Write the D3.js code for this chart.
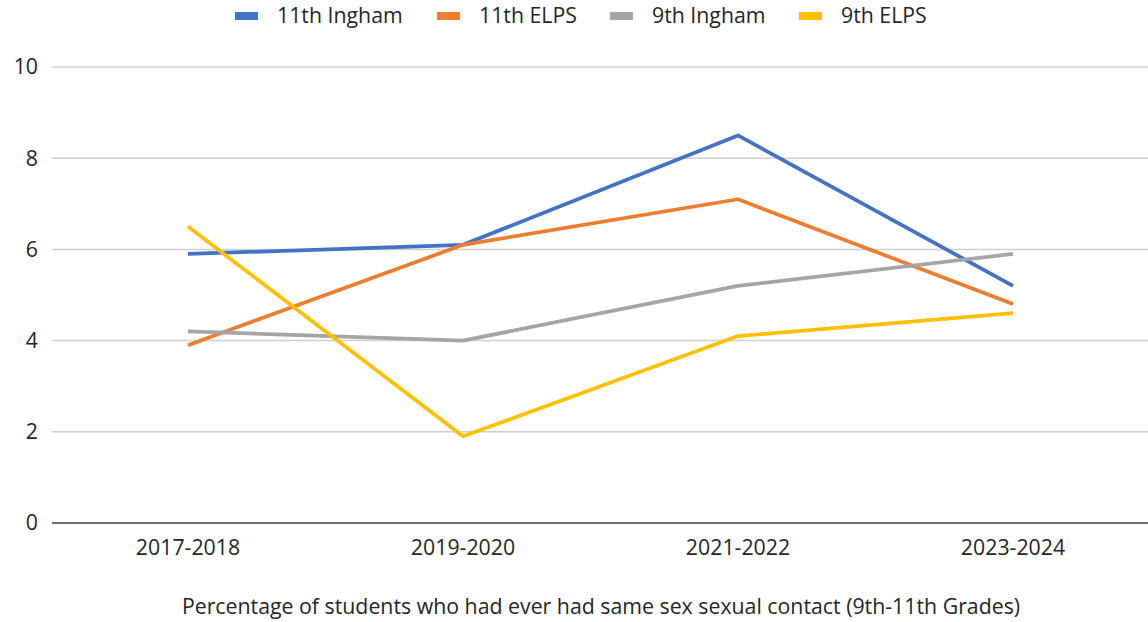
<!DOCTYPE html>
<html><head><meta charset="utf-8">
<script src="https://cdn.jsdelivr.net/npm/d3@7"></script>
<style>body{margin:0;background:#fff}svg{display:block}text{font-family:"Open Sans",sans-serif;fill:#262626}</style>
</head><body><svg id="c" width="1148" height="622"></svg>
<script>
const categories = ["2017-2018","2019-2020","2021-2022","2023-2024"];
const seriesNames = ["11th Ingham","11th ELPS","9th Ingham","9th ELPS"];
const ingham11 = [5.9, 6.1, 8.5, 5.2];
const elps11 = [3.9, 6.1, 7.1, 4.8];
const ingham9 = [4.2, 4.0, 5.2, 5.9];
const elps9 = [6.5, 1.9, 4.1, 4.6];
const yTicks = [0, 2, 4, 6, 8, 10];
const colors = ["#4472C4","#ED7D31","#A5A5A5","#FFC000"];
const title = "Percentage of students who had ever had same sex sexual contact (9th-11th Grades)";

const FS = 21.3;
const series = [ingham11, elps11, ingham9, elps9];
const svg = d3.select("#c");
const x = d3.scalePoint().domain(categories).range([188, 1013]);
const y = d3.scaleLinear().domain([0, 10]).range([523, 67]);

svg.append("g").selectAll("line").data(yTicks.filter(d => d > 0)).join("line")
  .attr("x1", 52).attr("x2", 1148).attr("y1", d => y(d)).attr("y2", d => y(d))
  .attr("stroke", "#d0d0d0").attr("stroke-width", 1.5);
svg.append("g").selectAll("text").data(yTicks).join("text")
  .attr("x", 38).attr("y", d => y(d)).attr("dy", "0.35em").attr("text-anchor", "end")
  .attr("font-size", FS).text(d => d);
svg.append("line").attr("x1", 52).attr("x2", 1148).attr("y1", y(0)).attr("y2", y(0))
  .attr("stroke", "#404040").attr("stroke-width", 1.5);
svg.append("g").selectAll("text").data(categories).join("text")
  .attr("x", d => x(d)).attr("y", 548).attr("dy", "0.35em").attr("text-anchor", "middle")
  .attr("font-size", FS).text(d => d);
svg.append("text").attr("x", 601).attr("y", 607).attr("dy", "0.35em").attr("text-anchor", "middle")
  .attr("font-size", FS).text(title);
const line = d3.line().x((d, i) => x(categories[i])).y(d => y(d));
svg.append("g").selectAll("path").data(series).join("path")
  .attr("d", line).attr("fill", "none").attr("stroke", (d, i) => colors[i])
  .attr("stroke-width", 3.75).attr("stroke-linejoin", "round");
const legX = [235, 437, 610, 799];
const lg = svg.append("g").selectAll("g").data(seriesNames).join("g")
  .attr("transform", (d, i) => `translate(${legX[i]},16)`);
lg.append("rect").attr("x", 0).attr("y", -4).attr("width", 23).attr("height", 8)
  .attr("fill", (d, i) => colors[i]);
lg.append("text").attr("x", 42).attr("dy", "0.35em").attr("font-size", FS).text(d => d);
</script></body></html>
